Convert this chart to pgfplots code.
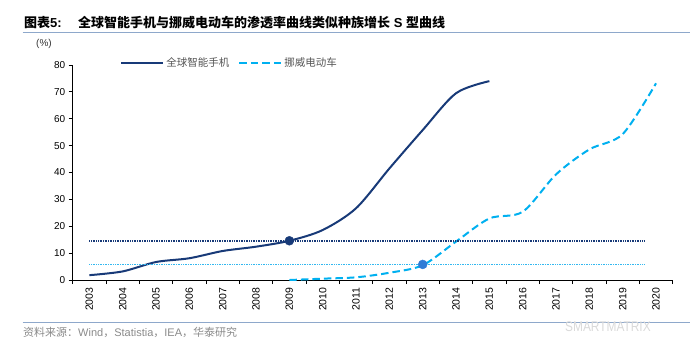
\documentclass[border=0pt]{standalone}
\usepackage{fontspec}
\setmainfont{Liberation Sans}
\newfontfamily\cjk{Noto Sans CJK SC}
\usepackage{pgfplots}
\pgfplotsset{compat=1.18}
\definecolor{navy}{HTML}{183A78}
\definecolor{evblue}{HTML}{00B0F0}
\definecolor{dotblue}{HTML}{33B8F0}
\definecolor{markblue}{HTML}{2E7BD6}
\definecolor{rulecol}{HTML}{8EA8CB}
\definecolor{srcgray}{HTML}{8A8A8A}
\definecolor{leggray}{HTML}{555555}
\begin{document}
\begin{tikzpicture}[x=1pt,y=1pt]
\useasboundingbox (0,0) rectangle (700,-357);
\node[anchor=base west, inner sep=0pt, font=\fontsize{13}{15}\selectfont\bfseries] at (24,-27) {{\cjk 图表}5:};
\node[anchor=base west, inner sep=0pt, font=\fontsize{13}{15}\selectfont\bfseries] at (78,-27) {{\cjk 全球智能手机与挪威电动车的渗透率曲线类似种族增长} S {\cjk 型曲线}};
\draw[rulecol, line width=1.3pt] (22.7,-32.5) -- (690,-32.5);
\node[inner sep=0pt, font=\fontsize{10}{12}\selectfont, text=black!80] at (44,-44) {(\%)};
\begin{axis}[
  at={(72.7pt,-280pt)}, anchor=south west,
  scale only axis, width=600pt, height=215pt,
  xmin=-0.5, xmax=17.5, ymin=0, ymax=80,
  clip=false,
  axis x line*=bottom, axis y line*=left,
  axis line style={-, black, line width=0.8pt},
  tick align=outside,
  xtick={0,...,17},
  xticklabels={2003,2004,2005,2006,2007,2008,2009,2010,2011,2012,2013,2014,2015,2016,2017,2018,2019,2020},
  major x tick style={draw=none},
  minor xtick={-0.5,0.5,...,17.5},
  minor tick length=4pt,
  minor x tick style={black, line width=0.8pt},
  ytick={0,10,...,80},
  major tick length=4pt,
  y tick style={black, line width=0.8pt},
  /pgf/number format/assume math mode=true,
  xticklabel style={rotate=90, anchor=east, font=\fontsize{10.5}{12}\selectfont},
  yticklabel style={font=\fontsize{10}{12}\selectfont},
  legend style={at={(axis description cs:0.079,1.009)}, anchor=west, draw=none, fill=none, inner sep=0pt,
    font=\cjk\fontsize{10.5}{12}\selectfont, text=leggray,
    /tikz/every even column/.append style={column sep=7pt}},
  legend columns=2,
  legend image code/.code={\draw[#1] (0pt,0pt) -- (42pt,0pt);},
]
\addplot[navy, line width=2pt, smooth] coordinates {
(0,1.8) (1,3.2) (2,6.7) (3,8.1) (4,10.8) (5,12.4) (6,14.6) (7,18.6) (8,26.7) (9,41.5) (10,55.8) (11,69.5) (12,74.0)};
\addlegendentry{全球智能手机}
\addplot[evblue, line width=2pt, smooth, dash pattern=on 7.5pt off 4pt] coordinates {
(6,0) (7,0.5) (8,1.0) (9,2.7) (10,5.5) (11,14.3) (12,22.9) (13,25.4) (14,39.3) (15,48.6) (16,54.3) (17,73.2)};
\addlegendentry{挪威电动车}
\addplot[navy, line width=1.6pt, dash pattern=on 1pt off 0.7pt, forget plot] coordinates {(0,14.6) (16.67,14.6)};
\addplot[dotblue, line width=1.6pt, dash pattern=on 1pt off 0.7pt, forget plot] coordinates {(0,5.8) (16.67,5.8)};
\addplot[only marks, mark=*, mark size=4.5pt, navy, forget plot] coordinates {(6,14.6)};
\addplot[only marks, mark=*, mark size=4.5pt, markblue, forget plot] coordinates {(10,5.8)};
\end{axis}
\draw[rulecol, line width=1.6pt] (22.7,-322.3) -- (690,-322.3);
\node[anchor=west, inner sep=0pt, font=\fontsize{11}{13}\selectfont, text=srcgray] at (23,-332.5) {{\cjk 资料来源：}Wind{\cjk ，}Statistia{\cjk ，}IEA{\cjk ，华泰研究}};
\node[anchor=west, inner sep=0pt, font=\fontsize{14}{14}\selectfont, text=black!15, xscale=0.85] at (565,-327) {SMARTMATRIX};
\end{tikzpicture}
\end{document}
